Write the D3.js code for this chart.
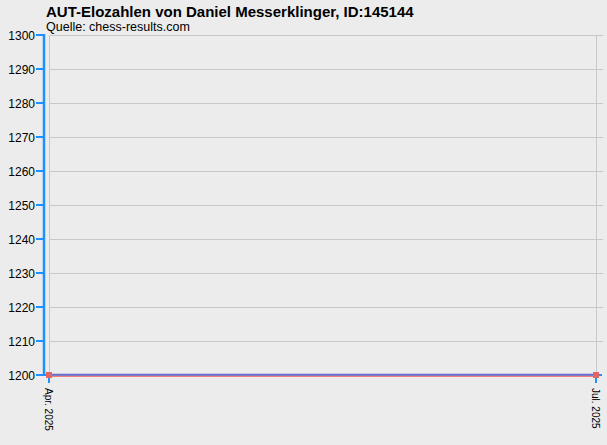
<!DOCTYPE html>
<html>
<head>
<meta charset="utf-8">
<script src="https://cdn.jsdelivr.net/npm/d3@7"></script>
<style>
  body { margin: 0; background: #ececec; }
  svg { display: block; font-family: "Liberation Sans", Arial, sans-serif; }
</style>
</head>
<body>
<div id="chart"></div>
<script>
// data
var months = ["Apr. 2025", "Jul. 2025"];
var elo = [1200, 1200];
var yTicks = [1200, 1210, 1220, 1230, 1240, 1250, 1260, 1270, 1280, 1290, 1300];

var width = 607, height = 445;
var plotLeft = 49, plotRight = 596, plotTop = 35, plotBottom = 375;

var svg = d3.select("#chart").append("svg")
    .attr("width", width)
    .attr("height", height);

svg.append("rect")
    .attr("width", width).attr("height", height)
    .attr("fill", "#ececec");

var x = d3.scalePoint()
    .domain(months)
    .range([plotLeft, plotRight]);

var y = d3.scaleLinear()
    .domain([1200, 1300])
    .range([plotBottom, plotTop]);

// grid
svg.append("g").selectAll("line")
    .data(yTicks.slice(1))
    .enter().append("line")
    .attr("x1", plotLeft).attr("x2", 603)
    .attr("y1", d => y(d) + 0.5).attr("y2", d => y(d) + 0.5)
    .style("stroke", "#c8c8c8")
    .style("stroke-width", 1);

svg.append("g").selectAll("line")
    .data(months)
    .enter().append("line")
    .attr("x1", d => x(d) + 0.5).attr("x2", d => x(d) + 0.5)
    .attr("y1", plotTop).attr("y2", plotBottom)
    .style("stroke", "#c8c8c8")
    .style("stroke-width", 1);

// y axis
var yAxis = svg.append("g");
yAxis.append("line")
    .attr("x1", 44).attr("x2", 44)
    .attr("y1", plotTop - 1).attr("y2", plotBottom + 1)
    .style("stroke", "#1e90ff")
    .style("stroke-width", 2.5);
yAxis.selectAll(".tick")
    .data(yTicks)
    .enter().append("line")
    .attr("x1", 36).attr("x2", 44)
    .attr("y1", d => y(d)).attr("y2", d => y(d))
    .style("stroke", "#1e90ff")
    .style("stroke-width", 2);
yAxis.selectAll("text")
    .data(yTicks)
    .enter().append("text")
    .attr("x", 35)
    .attr("y", d => y(d) + 4.5)
    .attr("text-anchor", "end")
    .attr("font-size", "12px")
    .attr("fill", "#000")
    .text(d => d);

// x axis
var xAxis = svg.append("g");
xAxis.append("line")
    .attr("x1", 44).attr("x2", 602)
    .attr("y1", plotBottom).attr("y2", plotBottom)
    .style("stroke", "#1e90ff")
    .style("stroke-width", 2);
xAxis.selectAll(".tick")
    .data(months)
    .enter().append("line")
    .attr("x1", d => x(d)).attr("x2", d => x(d))
    .attr("y1", plotBottom).attr("y2", plotBottom + 8)
    .style("stroke", "#1e90ff")
    .style("stroke-width", 2);
xAxis.selectAll("text")
    .data(months)
    .enter().append("text")
    .attr("transform", d => "translate(" + (x(d) - 4) + "," + (plotBottom + 13) + ") rotate(90)")
    .attr("text-anchor", "start")
    .attr("font-size", "10px")
    .attr("fill", "#000")
    .text(d => d);

// data line
var pts = months.map((m, i) => ({m: m, v: elo[i]}));
svg.append("path")
    .datum(pts)
    .attr("d", d3.line().x(d => x(d.m)).y(d => y(d.v) + 1.2))
    .style("fill", "none")
    .style("stroke", "#f08080")
    .style("stroke-width", 1.5);
svg.append("path")
    .datum(pts)
    .attr("d", d3.line().x(d => x(d.m)).y(d => y(d.v) - 0.5))
    .style("fill", "none")
    .style("stroke", "#6a6acd")
    .style("stroke-width", 1.5);

svg.selectAll(".pt")
    .data(pts)
    .enter().append("rect")
    .attr("x", d => x(d.m) - 3)
    .attr("y", d => y(d.v) - 3)
    .attr("width", 6).attr("height", 6)
    .attr("fill", "#e06666");

// titles
svg.append("text")
    .attr("x", 46).attr("y", 17)
    .attr("font-size", "15px")
    .attr("font-weight", "bold")
    .text("AUT-Elozahlen von Daniel Messerklinger, ID:145144");
svg.append("text")
    .attr("x", 46).attr("y", 31)
    .attr("font-size", "12.5px")
    .text("Quelle: chess-results.com");
</script>
</body>
</html>
